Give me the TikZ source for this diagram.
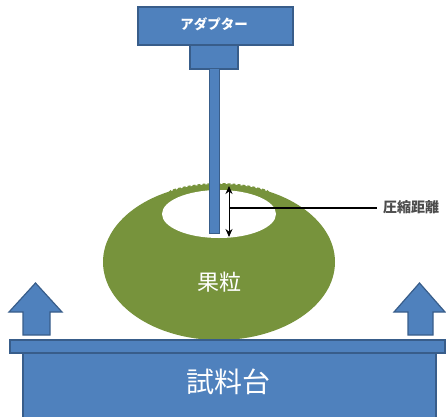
\documentclass[tikz,border=0pt]{standalone}
\usepackage{fontspec}
\newfontfamily\jp{Noto Sans CJK JP}
\usetikzlibrary{arrows.meta,shapes.geometric}
\definecolor{boxblue}{HTML}{4F81BD}
\definecolor{edgeblue}{HTML}{385D8A}
\definecolor{fruitgreen}{HTML}{77933C}
\begin{document}
\begin{tikzpicture}[x=1pt,y=-1pt,
  bluebox/.style={draw=edgeblue, line width=1.5pt, fill=boxblue, inner sep=0pt, anchor=north west},
  uparrow/.style={draw=edgeblue, line width=1.2pt, fill=boxblue, line join=miter},
  lbl/.style={font=\jp, text=white, inner sep=0pt}]
\useasboundingbox (0,0) rectangle (446,416);

% fruit body with the indentation pressed by the probe
\node[ellipse, fill=fruitgreen, minimum width=232pt, minimum height=156pt, inner sep=0pt] (fruit) at (219,262) {};
\begin{scope}
  \clip (219,262) ellipse [x radius=116, y radius=78];
  \fill[white] (219,214) ellipse [x radius=57, y radius=24];
\end{scope}
% original outline of the fruit, dashed over the indentation only
\begin{scope}
  \clip (219,208) ellipse [x radius=57, y radius=34];
  \draw[fruitgreen, line width=2pt, dash pattern=on 3pt off 2pt]
    (219,262) ellipse [x radius=116, y radius=78];
\end{scope}
\node[lbl, font=\jp\fontsize{22}{22}\selectfont] (fruitlbl) at (219,282) {果粒};

% adapter, coupling block and probe rod
\node[bluebox, minimum width=155pt, minimum height=38pt] (adapter) at (137,6) {};
\node[lbl, font=\jp\fontsize{13.5}{13.5}\selectfont\bfseries] (adapterlbl) at (214,24) {アダプター};
\node[bluebox, minimum width=48pt, minimum height=24pt] (coupling) at (189,44) {};
\node[bluebox, line width=1pt, minimum width=10pt, minimum height=165pt] (rod) at (209,68) {};

% compression distance marker
\coordinate (dtop) at (229,186);
\coordinate (dbot) at (229,237);
\coordinate (dmid) at (229,208);
\draw[black, line width=1pt, {Stealth[length=8pt,width=7pt]}-{Stealth[length=8pt,width=7pt]}] (dtop) -- (dbot);
\node[font=\jp\fontsize{14}{14}\selectfont\bfseries, text=black!70, inner sep=0pt, anchor=west] (distlbl) at (383,207) {圧縮距離};
\coordinate (lend) at (377,208);
\draw[black, line width=1.8pt] (dmid) -- (lend);

% upward arrows beside the stage
\draw[uparrow] (35.5,283) -- (62,312) -- (50,312) -- (50,335) -- (23,335) -- (23,312) -- (9,312) -- cycle;
\draw[uparrow] (419.5,283) -- (445,312) -- (433,312) -- (433,335) -- (408,335) -- (408,312) -- (394,312) -- cycle;

% sample stage
\node[bluebox, minimum width=413pt, minimum height=66pt] (stage) at (22,352) {};
\node[bluebox, minimum width=435pt, minimum height=13pt] (stagetop) at (9,339) {};
\node[lbl, font=\jp\fontsize{28}{28}\selectfont] (stagelbl) at (228,382) {試料台};
\end{tikzpicture}
\end{document}
